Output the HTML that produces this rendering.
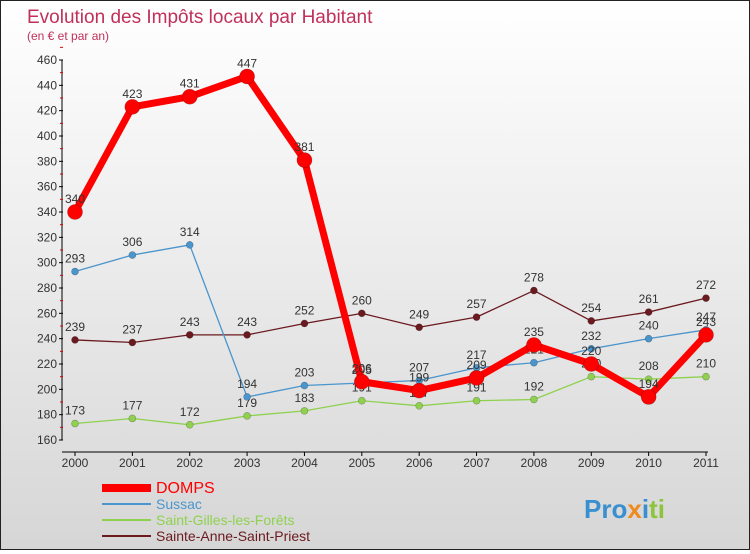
<!DOCTYPE html>
<html><head><meta charset="utf-8"><style>
body{margin:0;width:750px;height:550px;overflow:hidden;font-family:"Liberation Sans",sans-serif}
#wrap{position:relative;width:748px;height:548px;border:1px solid #222;background:linear-gradient(#fff,#d6d6d6)}
</style></head><body>
<div id="wrap">
<svg id="chart" width="748" height="548">
<text x="26" y="22" font-size="19" fill="#c0305a">Evolution des Impôts locaux par Habitant</text>
<text x="26" y="39" font-size="12" fill="#c0305a">(en € et par an)</text>
<g id="axes"></g><g id="series"></g><g id="legend"></g>
<text x="583" y="517" font-size="26" font-weight="bold" fill="#3a8fd0">Pro<tspan fill="#f08a1c">x</tspan><tspan fill="#3a8fd0">i</tspan><tspan fill="#8cc43c">ti</tspan></text>
</svg></div>
<script>
const years=[2000,2001,2002,2003,2004,2005,2006,2007,2008,2009,2010,2011];
const domps=[340,423,431,447,381,206,199,209,235,220,194,243];
const sussac=[293,306,314,194,203,205,207,217,221,232,240,247];
const gilles=[173,177,172,179,183,191,187,191,192,210,208,210];
const anne=[239,237,243,243,252,260,249,257,278,254,261,272];
const yTicks=[160,180,200,220,240,260,280,300,320,340,360,380,400,420,440,460];
const ns="http://www.w3.org/2000/svg";
const X=i=>74+i*(705-74)/11, Y=v=>439-(v-160)*(380/300);
function mk(t,a,p){const e=document.createElementNS(ns,t);for(const k in a)e.setAttribute(k,a[k]);p.appendChild(e);return e;}
const ax=document.getElementById('axes');
let l=mk('line',{x1:61,y1:Y(460),x2:61,y2:Y(160),stroke:'#000'},ax);


l=mk('line',{x1:61,y1:451,x2:707,y2:451,stroke:'#000'},ax);


yTicks.forEach(v=>{mk('line',{x1:58,y1:Y(v),x2:62,y2:Y(v),stroke:'#000'},ax);
 mk('line',{x1:59,y1:Y(v+10),x2:62,y2:Y(v+10),stroke:'#d00'},ax);
 const t=mk('text',{x:56,y:Y(v)+4,'font-size':12,'text-anchor':'end',fill:'#333'},ax);t.textContent=v;
 
 });
years.forEach((y,i)=>{mk('line',{x1:X(i),y1:451,x2:X(i),y2:455,stroke:'#000'},ax);
 const t=mk('text',{x:X(i),y:466,'font-size':12,'text-anchor':'middle',fill:'#333'},ax);t.textContent=y;
 
 });
const sg=document.getElementById('series');
const defs=[[anne,'#6b1a1f',1.3,3.5,'sainte-anne'],[gilles,'#8fd14f',1.3,3.5,'saint-gilles'],[sussac,'#4a95cc',1.3,3.5,'sussac'],[domps,'#f00',7,7.5,'domps']];
defs.forEach(([d,c,w,r,n])=>{
 const g=mk('g',{},sg);
 
 
 const p=mk('polyline',{points:d.map((v,i)=>X(i)+','+Y(v)).join(' '),fill:'none',stroke:c,'stroke-width':w,'stroke-linejoin':'round'},g);
 d.forEach((v,i)=>{const cc=mk('circle',{cx:X(i),cy:Y(v),r:r,fill:c,stroke:'rgba(0,0,0,0.3)','stroke-width':0.6},g);
  
  
  const t=mk('text',{x:X(i),y:Y(v)-9,'font-size':12,'text-anchor':'middle',fill:'#333'},g);t.textContent=v;
  
  });
});
const lg=document.getElementById('legend');
const items=[['DOMPS','#f00',8,492,16],['Sussac','#4a95cc',2,508,14],['Saint-Gilles-les-Forêts','#8fd14f',2,524,14],['Sainte-Anne-Saint-Priest','#6b1a1f',2,540,14]];
items.forEach(([n,c,w,y,fs])=>{
 const g=mk('g',{},lg);
 
 
 mk('line',{x1:101,y1:y-5,x2:150,y2:y-5,stroke:c,'stroke-width':w},g);
 const t=mk('text',{x:155,y:y,'font-size':fs,fill:c},g);t.textContent=n;});
</script>
</body></html>
